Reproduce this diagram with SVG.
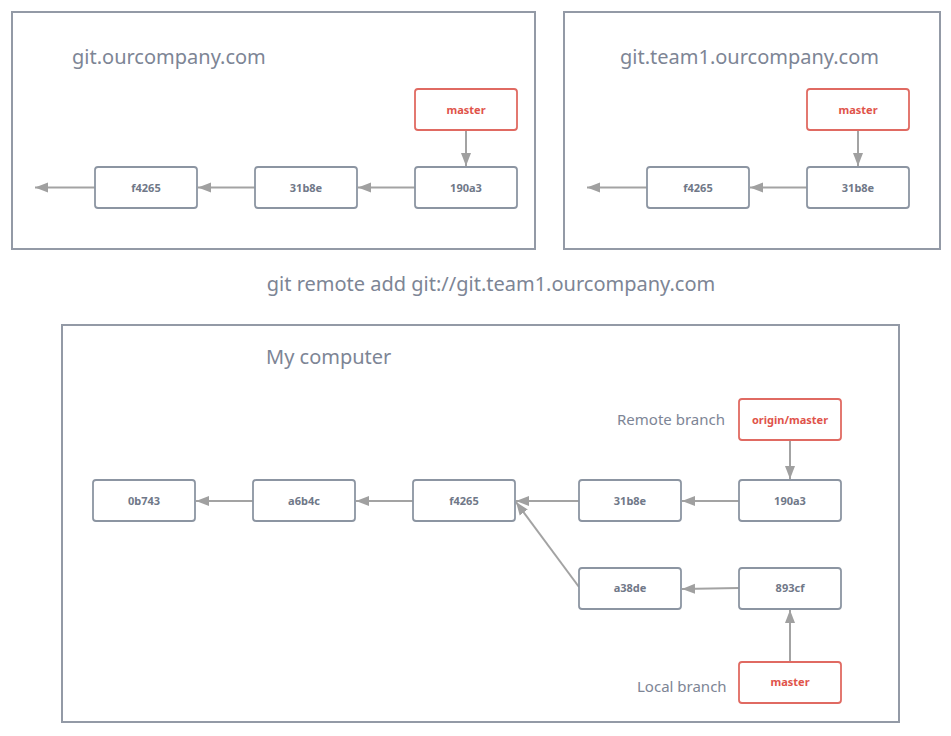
<svg xmlns="http://www.w3.org/2000/svg" width="951" height="736" viewBox="0 0 951 736">
<defs>
<marker id="ah" markerUnits="userSpaceOnUse" markerWidth="14" markerHeight="12" refX="13" refY="6" orient="auto">
<path d="M0,1 L13,6 L0,11 Z" fill="#a0a0a0"/>
</marker>
<style>
.frame{fill:#fff;stroke:#939aa6;stroke-width:2}
.n{fill:#fff;stroke:#8c95a2;stroke-width:1.8}
.r{fill:#fff;stroke:#e06a62;stroke-width:1.8}
.nt{font-family:"Noto Sans","Open Sans",sans-serif;font-size:11px;font-weight:bold;fill:#707888;text-anchor:middle}
.rt{font-family:"Noto Sans","Open Sans",sans-serif;font-size:11px;font-weight:bold;fill:#e0534a;text-anchor:middle}
.title{font-family:"Noto Sans","Open Sans",sans-serif;font-size:20px;fill:#7d8595}
.lab{font-family:"Noto Sans","Open Sans",sans-serif;font-size:15px;fill:#7d8595}
.c{stroke:#a3a3a3;stroke-width:2;fill:none;marker-end:url(#ah)}
</style>
</defs>
<rect width="951" height="736" fill="#fff"/>
<g id="frames">
<rect class="frame" x="12" y="12" width="523" height="237"/>
<rect class="frame" x="564" y="12" width="376" height="237"/>
<rect class="frame" x="62" y="325" width="837" height="397"/>
</g>
<g id="labels">
<text class="title" x="72" y="64">git.ourcompany.com</text>
<text class="title" x="620" y="64">git.team1.ourcompany.com</text>
<text class="title" x="491" y="291" text-anchor="middle">git remote add git://git.team1.ourcompany.com</text>
<text class="title" x="266" y="364">My computer</text>
<text class="lab" x="617" y="425">Remote branch</text>
<text class="lab" x="637" y="692">Local branch</text>
</g>
<g id="connectors">
<line class="c" x1="95" y1="187.5" x2="35" y2="187.5"/>
<line class="c" x1="255" y1="187.5" x2="198" y2="187.5"/>
<line class="c" x1="415" y1="187.5" x2="358" y2="187.5"/>
<line class="c" x1="466" y1="130" x2="466" y2="166"/>
<line class="c" x1="647" y1="187.5" x2="587" y2="187.5"/>
<line class="c" x1="807" y1="187.5" x2="750" y2="187.5"/>
<line class="c" x1="858" y1="130" x2="858" y2="166"/>
<line class="c" x1="253" y1="501" x2="196" y2="501"/>
<line class="c" x1="413" y1="501" x2="356" y2="501"/>
<line class="c" x1="579" y1="501" x2="516" y2="501"/>
<line class="c" x1="739" y1="501" x2="682" y2="501"/>
<line class="c" x1="790" y1="440" x2="790" y2="479"/>
<line class="c" x1="579" y1="587" x2="516" y2="502"/>
<line class="c" x1="739" y1="588" x2="682" y2="589"/>
<line class="c" x1="790" y1="662" x2="790" y2="610"/>
</g>
<g id="n-top-f4265"><rect class="n" x="95" y="167" width="102" height="41" rx="3"/><text class="nt" x="146" y="191.5">f4265</text></g>
<g id="n-top-31b8e"><rect class="n" x="255" y="167" width="102" height="41" rx="3"/><text class="nt" x="306" y="191.5">31b8e</text></g>
<g id="n-top-190a3"><rect class="n" x="415" y="167" width="102" height="41" rx="3"/><text class="nt" x="466" y="191.5">190a3</text></g>
<g id="n-top-master"><rect class="r" x="415" y="89" width="102" height="41" rx="3"/><text class="rt" x="466" y="113.5">master</text></g>
<g id="n-t1-f4265"><rect class="n" x="647" y="167" width="102" height="41" rx="3"/><text class="nt" x="698" y="191.5">f4265</text></g>
<g id="n-t1-31b8e"><rect class="n" x="807" y="167" width="102" height="41" rx="3"/><text class="nt" x="858" y="191.5">31b8e</text></g>
<g id="n-t1-master"><rect class="r" x="807" y="89" width="102" height="41" rx="3"/><text class="rt" x="858" y="113.5">master</text></g>
<g id="n-0b743"><rect class="n" x="93" y="480" width="102" height="41" rx="3"/><text class="nt" x="144" y="505">0b743</text></g>
<g id="n-a6b4c"><rect class="n" x="253" y="480" width="102" height="41" rx="3"/><text class="nt" x="304" y="505">a6b4c</text></g>
<g id="n-f4265"><rect class="n" x="413" y="480" width="102" height="41" rx="3"/><text class="nt" x="464" y="505">f4265</text></g>
<g id="n-31b8e"><rect class="n" x="579" y="480" width="102" height="41" rx="3"/><text class="nt" x="630" y="505">31b8e</text></g>
<g id="n-190a3"><rect class="n" x="739" y="480" width="102" height="41" rx="3"/><text class="nt" x="790" y="505">190a3</text></g>
<g id="n-origin-master"><rect class="r" x="739" y="399" width="102" height="41" rx="3"/><text class="rt" x="790" y="424">origin/master</text></g>
<g id="n-a38de"><rect class="n" x="579" y="568" width="102" height="41" rx="3"/><text class="nt" x="630" y="592">a38de</text></g>
<g id="n-893cf"><rect class="n" x="739" y="568" width="102" height="41" rx="3"/><text class="nt" x="790" y="592">893cf</text></g>
<g id="n-master"><rect class="r" x="739" y="662" width="102" height="41" rx="3"/><text class="rt" x="790" y="686">master</text></g>
</svg>
